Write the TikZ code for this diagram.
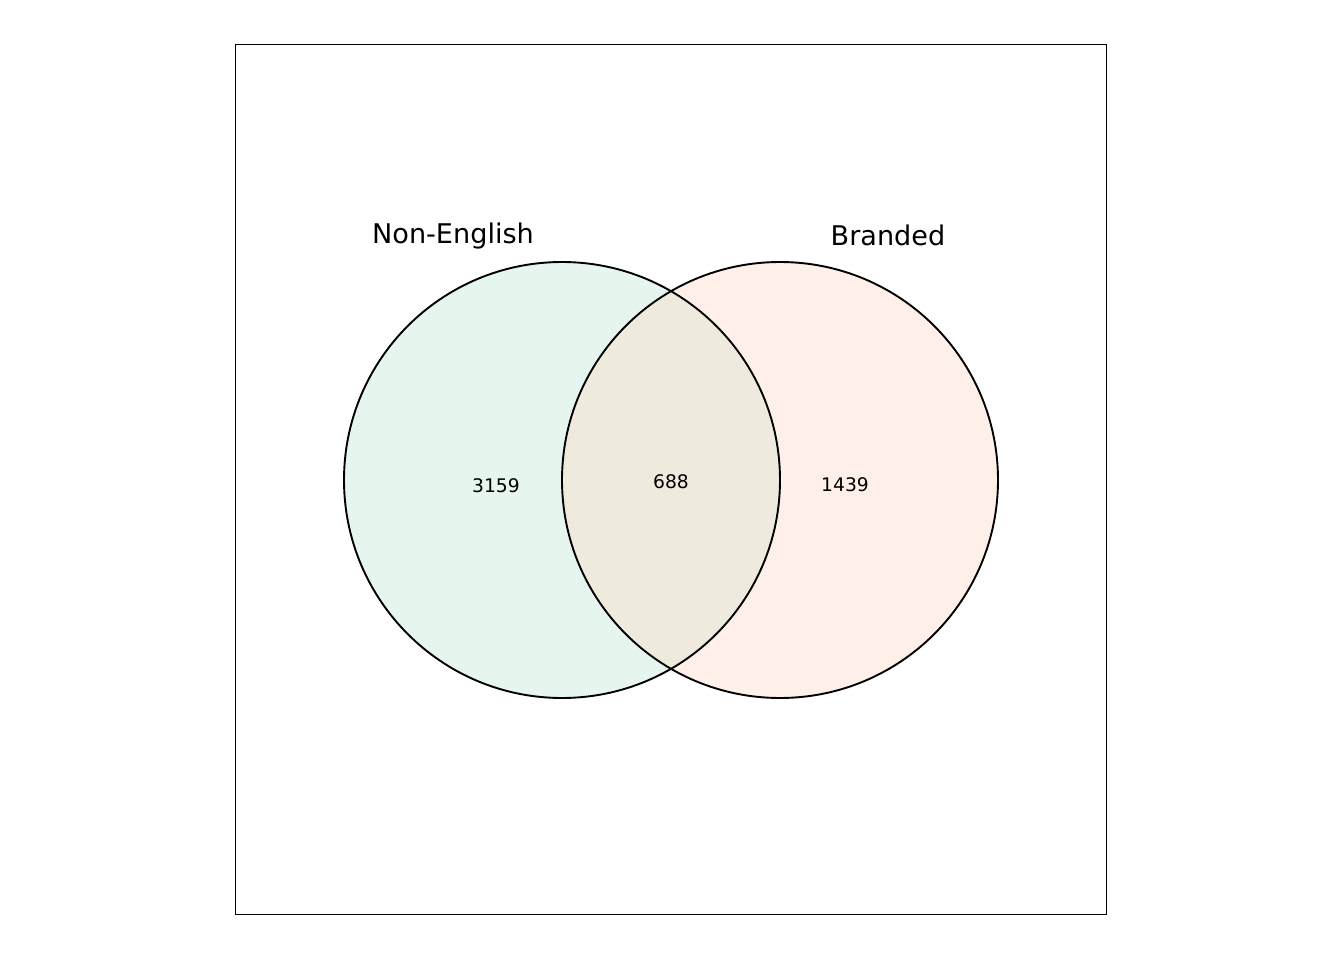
\documentclass[tikz,border=0pt]{standalone}
\usepackage{fontspec}
\setmainfont{DejaVu Sans}
\definecolor{leftfill}{RGB}{231,245,239}
\definecolor{rightfill}{RGB}{254,240,232}
\definecolor{midfill}{RGB}{238,235,222}
\begin{document}
\begin{tikzpicture}[x=1pt,y=-1pt,
  setlabel/.style={anchor=base,inner sep=0pt,font=\fontsize{27.1}{30}\selectfont},
  countlabel/.style={anchor=base,inner sep=0pt,font=\fontsize{18.7}{21}\selectfont},
  outline/.style={draw=black,line width=1.9pt}]
\useasboundingbox (0,0) rectangle (1344,960);
\fill[white] (0,0) rectangle (1344,960);
\coordinate (cl) at (562,480);
\coordinate (cr) at (780,480);
\fill[leftfill] (cl) circle (218);
\fill[rightfill] (cr) circle (218);
\begin{scope}
\clip (cl) circle (218);
\fill[midfill] (cr) circle (218);
\end{scope}
\draw[outline] (cl) circle (218);
\draw[outline] (cr) circle (218);
\draw[outline] (235.5,44.5) rectangle (1106.5,914.5);
\node[setlabel] (nonenglish) at (453,243.5) {Non-English};
\node[setlabel] (branded) at (888,245) {Branded};
\node[countlabel] (a) at (496,492) {3159};
\node[countlabel] (ab) at (671,488) {688};
\node[countlabel] (b) at (845,491) {1439};
\end{tikzpicture}
\end{document}
